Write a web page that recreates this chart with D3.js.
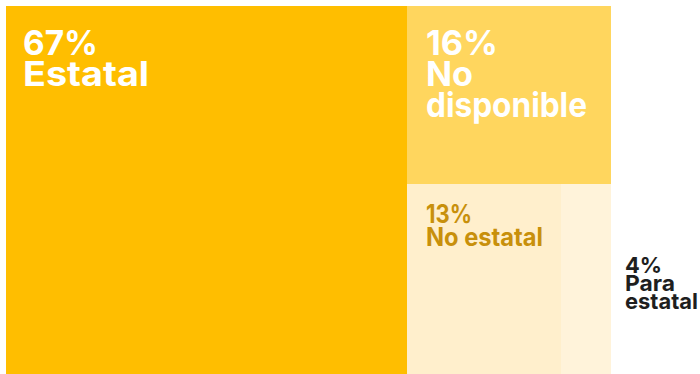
<!DOCTYPE html>
<html><head><meta charset="utf-8">
<script src="https://cdn.jsdelivr.net/npm/d3@7"></script>
<style>
html,body{margin:0;padding:0;background:#fff;}
svg{display:block;}
text{font-family:Inter, "Noto Sans", sans-serif;font-weight:700;}
</style></head>
<body>
<svg id="chart" width="700" height="374"></svg>
<script>
const categories = ["Estatal", "No disponible", "No estatal", "Para estatal"];
const labelLines = [["Estatal"], ["No", "disponible"], ["No estatal"], ["Para", "estatal"]];
const percentLabels = ["67%", "16%", "13%", "4%"];
const values = [66.3, 16.3, 13.1, 4.3];
const colors = ["#FFBE00", "#FFD65E", "#FFEFCC", "#FFF3DA"];
const textColors = ["#FFFFFF", "#FFFFFF", "#C8900B", "#1E1E1E"];

const svg = d3.select("#chart");
const root = d3.hierarchy({children: categories.map((c,i)=>({name:c, value:values[i], i}))})
  .sum(d => d.value || 0);
d3.treemap().tile(d3.treemapSquarify).size([605, 368]).round(true)(root);

const g = svg.append("g").attr("transform", "translate(6,6)");
const leaves = root.leaves();
g.selectAll("rect").data(leaves).join("rect")
  .attr("x", d => d.x0).attr("y", d => d.y0)
  .attr("width", d => d.x1 - d.x0).attr("height", d => d.y1 - d.y0)
  .attr("fill", d => colors[d.data.i]);

// label styling: offsets from the cell, font size, line height, line widths
const styles = [
  {size:34, lh:31, dx:17, dy:49, outside:false, widths:[75, 126]},
  {size:34, lh:31, dx:19, dy:49, outside:false, widths:[72, 47, 161]},
  {size:25, lh:23, dx:19, dy:39, outside:false, widths:[46, 117]},
  {size:22, lh:18, dx:14, dy:89, outside:true,  widths:[37, 50, 73]}
];
leaves.forEach(d => {
  const s = styles[d.data.i];
  const x = s.outside ? d.x1 + s.dx : d.x0 + s.dx;
  const y = d.y0 + s.dy;
  const t = g.append("text")
    .attr("fill", textColors[d.data.i])
    .style("font-size", s.size + "px");
  const lines = [percentLabels[d.data.i]].concat(labelLines[d.data.i]);
  lines.forEach((ln, k) => {
    t.append("tspan").attr("x", x).attr("y", y + k * s.lh)
      .attr("textLength", s.widths[k]).attr("lengthAdjust", "spacingAndGlyphs")
      .text(ln);
  });
});
</script>
</body></html>
